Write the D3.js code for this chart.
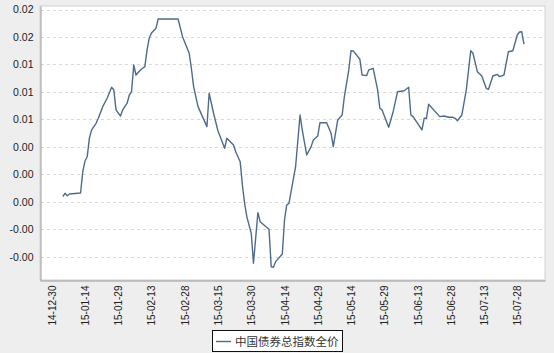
<!DOCTYPE html>
<html><head><meta charset="utf-8">
<script src="https://cdn.jsdelivr.net/npm/d3@7"></script>
<style>
html,body{margin:0;padding:0;background:#eeeeee;}
svg{display:block;}
</style></head>
<body>
<svg id="c" width="554" height="353"></svg>
<script>
const seriesName = "中国债券总指数全价";
const dates = ["2015-01-04","2015-01-05","2015-01-06","2015-01-07","2015-01-12","2015-01-13","2015-01-14","2015-01-15","2015-01-16","2015-01-17",
"2015-01-19","2015-01-20","2015-01-22","2015-01-24","2015-01-26","2015-01-27","2015-01-28","2015-01-30","2015-01-31","2015-02-02",
"2015-02-03","2015-02-04","2015-02-05","2015-02-06","2015-02-08","2015-02-09","2015-02-10","2015-02-11","2015-02-12","2015-02-13",
"2015-02-15","2015-02-16","2015-02-25","2015-02-27","2015-03-02","2015-03-03","2015-03-04","2015-03-06","2015-03-08","2015-03-10",
"2015-03-11","2015-03-13","2015-03-15","2015-03-18","2015-03-19","2015-03-22","2015-03-23","2015-03-25","2015-03-26","2015-03-27",
"2015-03-28","2015-03-30","2015-03-31","2015-04-02","2015-04-03","2015-04-07","2015-04-08","2015-04-09","2015-04-10","2015-04-13",
"2015-04-14","2015-04-15","2015-04-16","2015-04-19","2015-04-21","2015-04-22","2015-04-24","2015-04-26","2015-04-27","2015-04-29",
"2015-04-30","2015-05-03","2015-05-05","2015-05-06","2015-05-08","2015-05-10","2015-05-11","2015-05-13","2015-05-14","2015-05-15",
"2015-05-18","2015-05-19","2015-05-21","2015-05-22","2015-05-24","2015-05-26","2015-05-27","2015-05-28","2015-05-31","2015-06-02",
"2015-06-04","2015-06-07","2015-06-09","2015-06-10","2015-06-11","2015-06-15","2015-06-16","2015-06-17","2015-06-18","2015-06-23",
"2015-06-25","2015-06-27","2015-06-29","2015-06-30","2015-07-01","2015-07-03","2015-07-05","2015-07-07","2015-07-08","2015-07-10",
"2015-07-12","2015-07-14","2015-07-15","2015-07-17","2015-07-19","2015-07-20","2015-07-22","2015-07-24","2015-07-26","2015-07-28",
"2015-07-29","2015-07-30","2015-07-31"];
const values = [0.00048,0.00077,0.00055,0.00071,0.00080,0.00274,0.00371,0.00410,0.00581,0.00654,
0.00714,0.00760,0.00866,0.00942,0.01042,0.01018,0.00836,0.00781,0.00836,0.00897,
0.00972,0.01002,0.01245,0.01154,0.01200,0.01215,0.01230,0.01382,0.01491,0.01536,
0.01579,0.01664,0.01664,0.01503,0.01352,0.01213,0.01048,0.00866,0.00775,0.00684,
0.00988,0.00806,0.00644,0.00487,0.00578,0.00517,0.00456,0.00365,0.00153,-0.00014,
-0.00136,-0.00287,-0.00560,-0.00099,-0.00181,-0.00250,-0.00591,-0.00596,-0.00545,-0.00475,
-0.00166,-0.00029,-0.00014,0.00319,0.00790,0.00654,0.00426,0.00502,0.00562,0.00599,
0.00720,0.00720,0.00623,0.00502,0.00745,0.00790,0.00957,0.01200,0.01375,0.01373,
0.01297,0.01154,0.01148,0.01200,0.01215,0.01018,0.00851,0.00836,0.00678,0.00820,
0.01002,0.01011,0.01042,0.00790,0.00775,0.00654,0.00760,0.00760,0.00887,0.00775,
0.00781,0.00769,0.00769,0.00760,0.00738,0.00790,0.01018,0.01375,0.01352,0.01184,
0.01145,0.01033,0.01024,0.01145,0.01160,0.01139,0.01154,0.01366,0.01375,0.01518,
0.01545,0.01548,0.01436];
const yTickValues = [0.0175,0.015,0.0125,0.01,0.0075,0.005,0.0025,0,-0.0025,-0.005];
const yTickLabels = ["0.02","0.02","0.01","0.01","0.01","0.00","0.00","0.00","-0.00","-0.00"];
const xTickDates = ["2014-12-30","2015-01-14","2015-01-29","2015-02-13","2015-02-28","2015-03-15","2015-03-30","2015-04-14","2015-04-29","2015-05-14","2015-05-29","2015-06-13","2015-06-28","2015-07-13","2015-07-28"];
const xTickLabels = ["14-12-30","15-01-14","15-01-29","15-02-13","15-02-28","15-03-15","15-03-30","15-04-14","15-04-29","15-05-14","15-05-29","15-06-13","15-06-28","15-07-13","15-07-28"];
const xDomain = ["2014-12-24T17:00:00","2015-08-09T12:00:00"];
const yDomain = [-0.00712, 0.01782];

const parse = d3.timeParse("%Y-%m-%d");
const parseT = d3.isoParse;
const L=40, R=545, T=6, B=280;
const svg = d3.select("#c");
const x = d3.scaleTime().domain(xDomain.map(s=>new Date(s))).range([L,R]);
const y = d3.scaleLinear().domain(yDomain).range([B,T]);

svg.append("rect").attr("x",L).attr("y",T).attr("width",R-L).attr("height",B-T)
  .attr("fill","#fff").attr("stroke","#cfcfcf").attr("stroke-width",1);

// gridlines
svg.append("g").selectAll("line").data(yTickValues).join("line")
  .attr("x1",L+1).attr("x2",R-1)
  .attr("y1",d=>Math.round(y(d))+0.5).attr("y2",d=>Math.round(y(d))+0.5)
  .attr("stroke","#d9d9d9").attr("stroke-dasharray","3,3").attr("stroke-width",1);

// y axis
const yAxis = d3.axisLeft(y).tickValues(yTickValues).tickSize(0).tickPadding(7)
  .tickFormat((d,i)=>yTickLabels[i]);
const gy = svg.append("g").attr("transform",`translate(${L+0.5},0)`).call(yAxis);
gy.select(".domain").attr("stroke","#999");
gy.selectAll("text").attr("font-family","Liberation Sans, Arial, sans-serif").attr("font-size","10.5px").attr("fill","#222");

// x axis
const xAxis = d3.axisBottom(x).tickValues(xTickDates.map(parse)).tickSize(0)
  .tickFormat((d,i)=>xTickLabels[i]);
const gx = svg.append("g").attr("transform",`translate(0,${B+0.5})`).call(xAxis);
gx.select(".domain").attr("stroke","#999");
gx.selectAll("text").attr("font-family","Liberation Sans, Arial, sans-serif").attr("font-size","10px").attr("fill","#222")
  .attr("text-anchor","end").attr("transform","rotate(-90)")
  .attr("x",-5).attr("y",0).attr("dy","0.35em");

// line
const data = dates.map((d,i)=>({date:parse(d), v:values[i]}));
svg.append("path").datum(data)
  .attr("fill","none").attr("stroke","#4e6b8c").attr("stroke-width",1.4).attr("stroke-linejoin","round")
  .attr("d", d3.line().x(d=>x(d.date)).y(d=>y(d.v)));

// legend
const lg = svg.append("g");
lg.append("rect").attr("x",212.5).attr("y",330.5).attr("width",130).attr("height",21)
  .attr("fill","#fff").attr("stroke","#111").attr("stroke-width",1);
lg.append("line").attr("x1",216).attr("x2",231).attr("y1",341.5).attr("y2",341.5)
  .attr("stroke","#4e6b8c").attr("stroke-width",1.4);
lg.append("text").attr("x",235).attr("y",345.5).text(seriesName)
  .attr("font-family","Noto Sans CJK SC, sans-serif").attr("font-size","11.5px").attr("fill","#333");
</script>
</body></html>
